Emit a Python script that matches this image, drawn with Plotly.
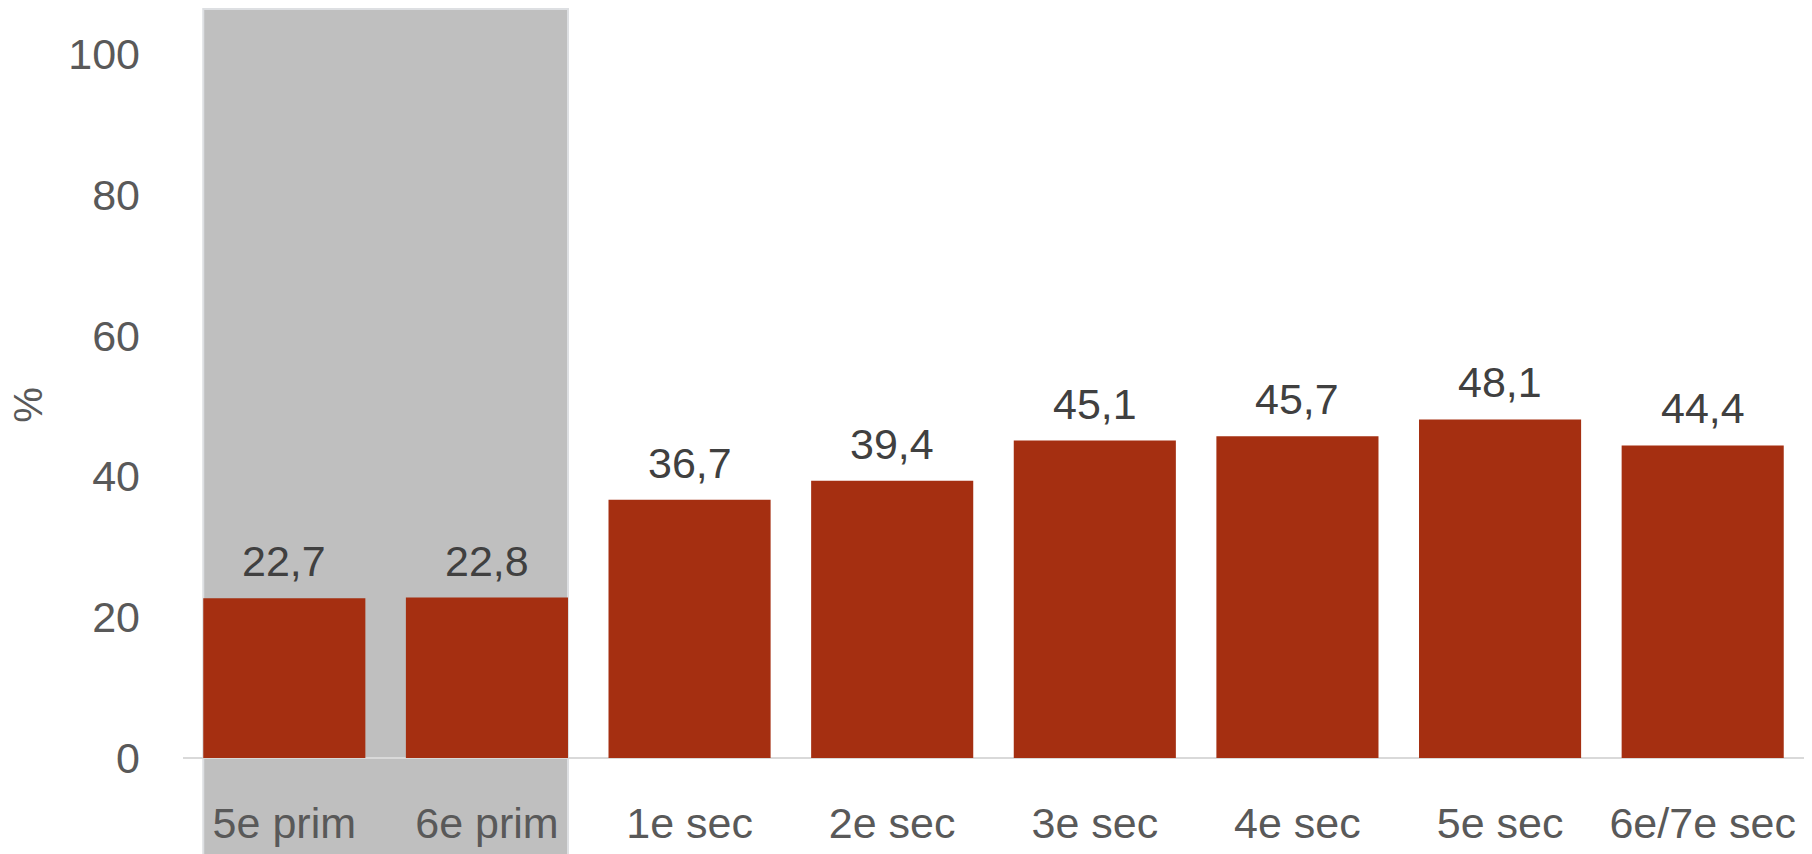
import plotly.graph_objects as go

# Share per school year (%)
categories = ["5e prim", "6e prim", "1e sec", "2e sec", "3e sec", "4e sec", "5e sec", "6e/7e sec"]
values = [22.7, 22.8, 36.7, 39.4, 45.1, 45.7, 48.1, 44.4]
y_ticks = [0, 20, 40, 60, 80, 100]

# Primary-school years are highlighted with a grey band
highlight = ["5e prim", "6e prim"]

BAR_COLOR = "#A52F11"
FONT = "Liberation Sans"

fig = go.Figure()
fig.add_trace(go.Bar(
    x=categories,
    y=values,
    marker=dict(color=BAR_COLOR, line=dict(width=0)),
    hoverinfo="skip",
))

# value labels above bars, decimal comma
for c, v in zip(categories, values):
    fig.add_annotation(
        x=c, y=v, xref="x", yref="y",
        text=f"{v:.1f}".replace(".", ","),
        showarrow=False, yanchor="middle", yshift=37,
        font=dict(family=FONT, size=43, color="#404040"),
    )

# grey band behind the primary-school bars, running to the bottom of the figure
i0 = categories.index(highlight[0])
i1 = categories.index(highlight[-1])
fig.add_shape(
    type="rect", layer="below",
    xref="x", yref="paper",
    x0=i0 - 0.4, x1=i1 + 0.4,
    y0=-0.14, y1=1.0,
    fillcolor="#BFBFBF",
    line=dict(color="#DDDFE2", width=2),
)

fig.add_annotation(
    text="%", xref="paper", yref="paper",
    x=-0.0955, y=0.472, showarrow=False, textangle=-90,
    xanchor="center", yanchor="middle",
    font=dict(family=FONT, size=40, color="#595959"),
)

fig.update_layout(
    width=1812, height=854,
    margin=dict(l=183, r=8, t=9, b=96),
    paper_bgcolor="white", plot_bgcolor="rgba(0,0,0,0)",
    bargap=0.2,
    showlegend=False,
    font=dict(family=FONT, color="#595959"),
)
fig.update_xaxes(
    type="category", automargin=False,
    showgrid=False, showline=False, zeroline=False,
    ticks="", ticklabelstandoff=36,
    tickfont=dict(family=FONT, size=43, color="#595959"),
)
fig.update_yaxes(
    range=[0, 106.4], automargin=False,
    tickvals=y_ticks,
    showgrid=False, showline=False,
    zeroline=True, zerolinecolor="#D9D9D9", zerolinewidth=2,
    ticks="", ticklabelstandoff=42,
    tickfont=dict(family=FONT, size=43, color="#595959"),
)

fig.write_html("out.html")
